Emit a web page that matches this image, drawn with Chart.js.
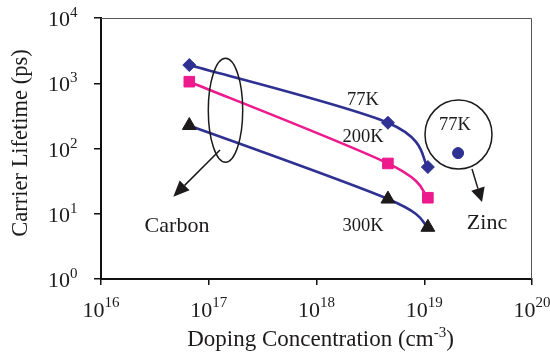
<!DOCTYPE html>
<html>
<head>
<meta charset="utf-8">
<script src="https://cdn.jsdelivr.net/npm/chart.js@4/dist/chart.umd.min.js"></script>
<style>
  html, body { margin: 0; padding: 0; background: #fff; }
  #wrap { width: 550px; height: 356px; }
</style>
</head>
<body>
<div id="wrap"><canvas id="c" width="550" height="356"></canvas></div>
<script>
// Doping concentration (cm^-3) of the carbon-doped samples
const dopingCarbon = [6.6e16, 4.6e18, 1.08e19];
// Carrier lifetime (ps) at each temperature
const lifetime77K  = [1900, 248, 52];
const lifetime200K = [1057, 59, 17.6];
const lifetime300K = [225, 16.8, 6.2];
// Zinc-doped sample measured at 77K
const dopingZinc = [2.06e19];
const lifetimeZinc77K = [85];

// Decade ticks and their exponents
const xDecades = [1e16, 1e17, 1e18, 1e19, 1e20];
const xTickExp = ['16', '17', '18', '19', '20'];
const yDecades = [1, 10, 100, 1000, 10000];
const yTickExp = ['0', '1', '2', '3', '4'];

const BLUE = '#2E3192';
const PINK = '#EC1A8D';
const INK = '#1c1a1b';
const SERIF = '"Liberation Serif", "Times New Roman", serif';

const pts = (xs, ys) => xs.map((x, i) => ({ x: x, y: ys[i] }));

function drawPow(ctx, exp, x, baseY, align, mainPx, supPx, raise) {
  ctx.font = mainPx + 'px ' + SERIF;
  const wMain = ctx.measureText('10').width;
  ctx.font = supPx + 'px ' + SERIF;
  const wExp = ctx.measureText(exp).width;
  const total = wMain + wExp;
  let start = x;
  if (align === 'center') start = x - total / 2;
  else if (align === 'right') start = x - total;
  ctx.textAlign = 'left';
  ctx.textBaseline = 'alphabetic';
  ctx.font = mainPx + 'px ' + SERIF;
  ctx.fillText('10', start, baseY);
  ctx.font = supPx + 'px ' + SERIF;
  ctx.fillText(exp, start + wMain, baseY - raise);
}

function arrow(ctx, x1, y1, x2, y2, headLen, headHalf) {
  const ang = Math.atan2(y2 - y1, x2 - x1);
  const bx = x2 - Math.cos(ang) * headLen;
  const by = y2 - Math.sin(ang) * headLen;
  ctx.beginPath();
  ctx.moveTo(x1, y1);
  ctx.lineTo(bx, by);
  ctx.stroke();
  ctx.beginPath();
  ctx.moveTo(x2, y2);
  ctx.lineTo(bx + Math.sin(ang) * headHalf, by - Math.cos(ang) * headHalf);
  ctx.lineTo(bx - Math.sin(ang) * headHalf, by + Math.cos(ang) * headHalf);
  ctx.closePath();
  ctx.fill();
}

// Uniform Catmull-Rom handles (one sixth of the neighbour span) for the smoothed lines
const smoothLines = {
  id: 'smoothLines',
  beforeDatasetsDraw(chart) {
    chart.data.datasets.forEach((ds, di) => {
      const meta = chart.getDatasetMeta(di);
      if (ds.showLine === false || !meta.dataset) return;
      meta.dataset.updateControlPoints(chart.chartArea, 'x');
      const p = meta.data;
      const n = p.length;
      for (let i = 0; i < n; i++) {
        const prev = p[Math.max(0, i - 1)];
        const next = p[Math.min(n - 1, i + 1)];
        const dx = (next.x - prev.x) / 6;
        const dy = (next.y - prev.y) / 6;
        p[i].cp1x = p[i].x - dx; p[i].cp1y = p[i].y - dy;
        p[i].cp2x = p[i].x + dx; p[i].cp2y = p[i].y + dy;
      }
    });
  }
};

const decorations = {
  id: 'decorations',
  afterDraw(chart) {
    const ctx = chart.ctx;
    const area = chart.chartArea;
    const xs = chart.scales.x, ys = chart.scales.y;
    ctx.save();

    // thin frame on the top and right of the plot area
    ctx.strokeStyle = '#555';
    ctx.lineWidth = 1;
    ctx.beginPath();
    ctx.moveTo(area.left, area.top + 0.5);
    ctx.lineTo(area.right - 0.5, area.top + 0.5);
    ctx.lineTo(area.right - 0.5, area.bottom);
    ctx.stroke();

    ctx.fillStyle = INK;
    // tick labels
    xDecades.forEach((v, i) => {
      drawPow(ctx, xTickExp[i], xs.getPixelForValue(v), 316.5, 'center', 22, 15, 10);
    });
    yDecades.forEach((v, i) => {
      drawPow(ctx, yTickExp[i], 77.5, ys.getPixelForValue(v) + 8, 'right', 22, 15, 9);
    });

    // axis titles
    ctx.font = '22.5px ' + SERIF;
    ctx.textAlign = 'center';
    ctx.textBaseline = 'alphabetic';
    ctx.save();
    ctx.translate(27, 143);
    ctx.rotate(-Math.PI / 2);
    ctx.fillText('Carrier Lifetime (ps)', 0, 0);
    ctx.restore();

    const t1 = 'Doping Concentration (cm', t2 = '-3', t3 = ')';
    ctx.font = '23px ' + SERIF;
    const w1 = ctx.measureText(t1).width, w3 = ctx.measureText(t3).width;
    ctx.font = '15px ' + SERIF;
    const w2 = ctx.measureText(t2).width;
    let sx = 320.5 - (w1 + w2 + w3) / 2;
    ctx.textAlign = 'left';
    ctx.font = '23px ' + SERIF;
    ctx.fillText(t1, sx, 346);
    ctx.font = '15px ' + SERIF;
    ctx.fillText(t2, sx + w1, 346 - 9);
    ctx.font = '23px ' + SERIF;
    ctx.fillText(t3, sx + w1 + w2, 346);

    // series labels
    ctx.textAlign = 'center';
    ctx.font = '18.5px ' + SERIF;
    ctx.fillText('77K', 363, 105);
    ctx.fillText('200K', 363, 142);
    ctx.fillText('300K', 363, 231);
    ctx.fillText('77K', 455, 129.5);
    ctx.font = '22px ' + SERIF;
    ctx.fillText('Carbon', 177, 232);
    ctx.fillText('Zinc', 487, 229);

    // grouping ellipse and circle with their arrows
    ctx.strokeStyle = INK;
    ctx.lineWidth = 1.5;
    ctx.beginPath();
    ctx.ellipse(225.5, 110.3, 17.2, 52, 0, 0, Math.PI * 2);
    ctx.stroke();
    ctx.beginPath();
    ctx.ellipse(458.5, 134.5, 33.5, 34.5, 0, 0, Math.PI * 2);
    ctx.stroke();
    arrow(ctx, 220, 150, 173.3, 196.7, 16, 7);
    arrow(ctx, 472, 169, 482, 202, 14, 7);

    ctx.restore();
  }
};

const axisCommon = {
  type: 'logarithmic',
  ticks: { display: false },
  grid: { drawOnChartArea: false, drawTicks: true, color: '#111', lineWidth: 1.5 },
  border: { display: true, color: '#111', width: 2 }
};

new Chart(document.getElementById('c'), {
  type: 'line',
  data: {
    datasets: [
      {
        label: '77K',
        data: pts(dopingCarbon, lifetime77K),
        borderColor: BLUE, backgroundColor: BLUE,
        pointStyle: 'rectRot', pointRadius: 6.5, pointBorderWidth: 1,
        pointBorderColor: BLUE, borderWidth: 2.6, tension: 0.4
      },
      {
        label: '200K',
        data: pts(dopingCarbon, lifetime200K),
        borderColor: PINK, backgroundColor: PINK,
        pointStyle: 'rect', pointRadius: 7.5, pointBorderWidth: 1,
        pointBorderColor: PINK, borderWidth: 2.6, tension: 0.4
      },
      {
        label: '300K',
        data: pts(dopingCarbon, lifetime300K),
        borderColor: BLUE, backgroundColor: INK,
        pointStyle: 'triangle', pointRadius: 8, pointBorderWidth: 1,
        pointBorderColor: INK, borderWidth: 2.6, tension: 0.4
      },
      {
        label: 'Zinc 77K',
        data: pts(dopingZinc, lifetimeZinc77K),
        showLine: false,
        borderColor: BLUE, backgroundColor: BLUE,
        pointStyle: 'circle', pointRadius: 5.5, pointBorderWidth: 1,
        pointBorderColor: BLUE
      }
    ]
  },
  options: {
    responsive: false,
    animation: false,
    devicePixelRatio: 1,
    layout: { padding: { top: 18, right: 18, left: 0, bottom: 0 } },
    plugins: { legend: { display: false }, tooltip: { enabled: false } },
    scales: {
      x: Object.assign({}, axisCommon, {
        min: xDecades[0], max: xDecades[xDecades.length - 1],
        grid: Object.assign({}, axisCommon.grid, { tickLength: 6 }),
        afterBuildTicks: s => { s.ticks = xDecades.map(v => ({ value: v })); },
        afterFit: s => { s.height = 77; }
      }),
      y: Object.assign({}, axisCommon, {
        min: yDecades[0], max: yDecades[yDecades.length - 1],
        grid: Object.assign({}, axisCommon.grid, { tickLength: 7 }),
        afterBuildTicks: s => { s.ticks = yDecades.map(v => ({ value: v })); },
        afterFit: s => { s.width = 101; }
      })
    }
  },
  plugins: [smoothLines, decorations]
});
</script>
</body>
</html>
